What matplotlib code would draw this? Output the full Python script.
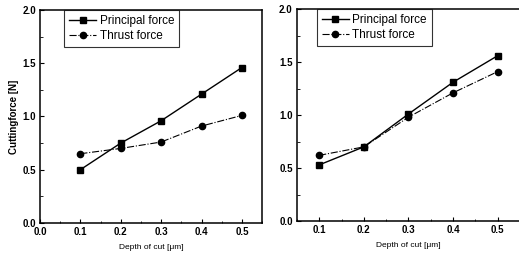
import numpy as np
import matplotlib
matplotlib.use("Agg")
import matplotlib.pyplot as plt
from matplotlib.ticker import MultipleLocator

# data
depth = [0.1, 0.2, 0.3, 0.4, 0.5]
principal_a = [0.50, 0.75, 0.96, 1.21, 1.46]
thrust_a = [0.65, 0.70, 0.76, 0.91, 1.01]
principal_b = [0.53, 0.70, 1.01, 1.31, 1.56]
thrust_b = [0.62, 0.70, 0.98, 1.21, 1.41]

plt.rcParams['font.family'] = ['Liberation Sans', 'DejaVu Sans']

fig = plt.figure(figsize=(5.19, 2.58), dpi=100)
ax1 = fig.add_axes([0.077, 0.136, 0.428, 0.825])
ax2 = fig.add_axes([0.572, 0.143, 0.43, 0.822])


def style_axes(ax, xmin):
    ax.set_xlim(xmin, 0.55)
    ax.set_ylim(0.0, 2.0)
    ax.xaxis.set_major_locator(MultipleLocator(0.1))
    ax.xaxis.set_minor_locator(MultipleLocator(0.05))
    ax.yaxis.set_major_locator(MultipleLocator(0.5))
    ax.yaxis.set_minor_locator(MultipleLocator(0.25))
    ax.tick_params(which='both', direction='in', top=False, right=False,
                   labelsize=7, pad=3)
    ax.tick_params(which='major', length=3, width=0.8)
    ax.tick_params(which='minor', length=1.8, width=0.6)
    for lab in ax.get_xticklabels() + ax.get_yticklabels():
        lab.set_fontweight('bold')
    for s in ax.spines.values():
        s.set_linewidth(1.1)
    ax.set_xlabel("Depth of cut [\u03bcm]", fontsize=6, labelpad=5)


def draw(ax, p, t, bbox):
    ax.plot(depth, p, '-', color='black', lw=1.0, marker='s', ms=4.5,
            label='Principal force')
    ax.plot(depth, t, '-.', color='black', lw=0.8, marker='o', ms=4.5,
            label='Thrust force')
    leg = ax.legend(loc='upper left', bbox_to_anchor=bbox, fontsize=8.5,
                    frameon=True, fancybox=False, edgecolor='black',
                    borderpad=0.4, handlelength=2.3, handletextpad=0.3,
                    labelspacing=0.3, borderaxespad=0)
    leg.get_frame().set_linewidth(0.8)


draw(ax1, principal_a, thrust_a, (0.11, 1.0))
style_axes(ax1, 0.0)
ax1.set_ylabel("Cuttingforce [N]", fontsize=7, fontweight='bold', labelpad=2)

draw(ax2, principal_b, thrust_b, (0.09, 1.0))
style_axes(ax2, 0.05)

fig.savefig("out.png", dpi=100)
